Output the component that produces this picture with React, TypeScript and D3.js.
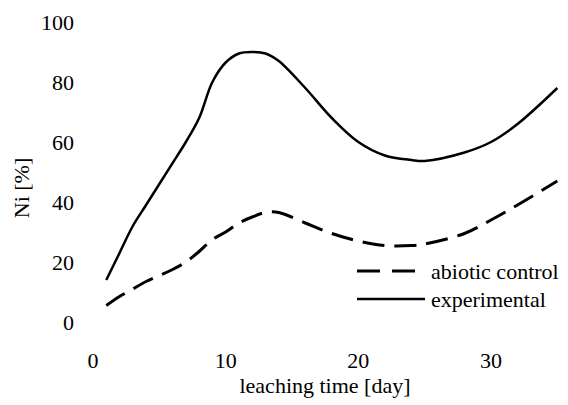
import React from 'react';
import * as d3 from 'd3';

// leaching days and Ni recovery (%)
const expDays = [1, 2, 3, 4, 5, 6, 7, 8, 9, 10, 11, 12, 13, 14, 16, 18, 20, 22, 24, 25, 28, 30, 32, 35];
const expValues = [14, 23, 32, 39, 46, 53, 60, 68, 80, 86.5, 89.5, 90, 89.5, 87, 78, 68, 60, 55.5, 54, 53.7, 56.5, 60, 66, 78];

const ctrlDays = [1, 2, 3, 4, 5, 6, 7, 8, 9, 10, 11, 12, 13, 14, 16, 18, 20, 22, 24, 25, 28, 30, 32, 35];
const ctrlValues = [5.5, 8.5, 11, 13.5, 15.5, 17.5, 20, 23.5, 27.5, 30, 33, 35, 36.5, 36.5, 33, 29.5, 27, 25.5, 25.5, 26, 29.5, 34, 39, 47];

const xTicks = [0, 10, 20, 30];
const yTicks = [0, 20, 40, 60, 80, 100];

const legendLabels = ['abiotic control', 'experimental'];

const W = 568;
const H = 405;
const FONT = 'Liberation Serif';
const FS = 22;

export default function App() {
  const x = d3.scaleLinear().domain([0, 30]).range([93, 491]);
  const y = d3.scaleLinear().domain([0, 100]).range([322, 22]);

  const line = d3
    .line<[number, number]>()
    .x((d) => x(d[0]))
    .y((d) => y(d[1]))
    .curve(d3.curveCatmullRom.alpha(0.5));

  const expPath = line(expDays.map((d, i) => [d, expValues[i]] as [number, number])) || '';
  const ctrlPath = line(ctrlDays.map((d, i) => [d, ctrlValues[i]] as [number, number])) || '';

  return (
    <svg width={W} height={H} style={{ position: 'absolute', left: 0, top: 0 }}>
      {yTicks.map((t) => (
        <text key={'y' + t} x={74} y={y(t)} dy="0.35em" textAnchor="end" fontFamily={FONT} fontSize={FS}>
          {t}
        </text>
      ))}
      {xTicks.map((t) => (
        <text key={'x' + t} x={x(t)} y={360} dy="0.35em" textAnchor="middle" fontFamily={FONT} fontSize={FS}>
          {t}
        </text>
      ))}

      <path d={ctrlPath} fill="none" stroke="#000" strokeWidth={3} strokeDasharray="22 10" />
      <path d={expPath} fill="none" stroke="#000" strokeWidth={2.5} />

      {/* legend */}
      <line x1={357} x2={415} y1={271} y2={271} stroke="#000" strokeWidth={3} strokeDasharray="23 12" />
      <text x={431} y={271} dy="0.35em" fontFamily={FONT} fontSize={FS}>{legendLabels[0]}</text>
      <line x1={357} x2={425} y1={299} y2={299} stroke="#000" strokeWidth={2.5} />
      <text x={431} y={299} dy="0.35em" fontFamily={FONT} fontSize={FS}>{legendLabels[1]}</text>

      <text x={325} y={385} dy="0.35em" textAnchor="middle" fontFamily={FONT} fontSize={FS}>
        leaching time [day]
      </text>
      <text transform="translate(21, 188) rotate(-90)" dy="0.35em" textAnchor="middle" fontFamily={FONT} fontSize={FS}>
        Ni [%]
      </text>
    </svg>
  );
}
